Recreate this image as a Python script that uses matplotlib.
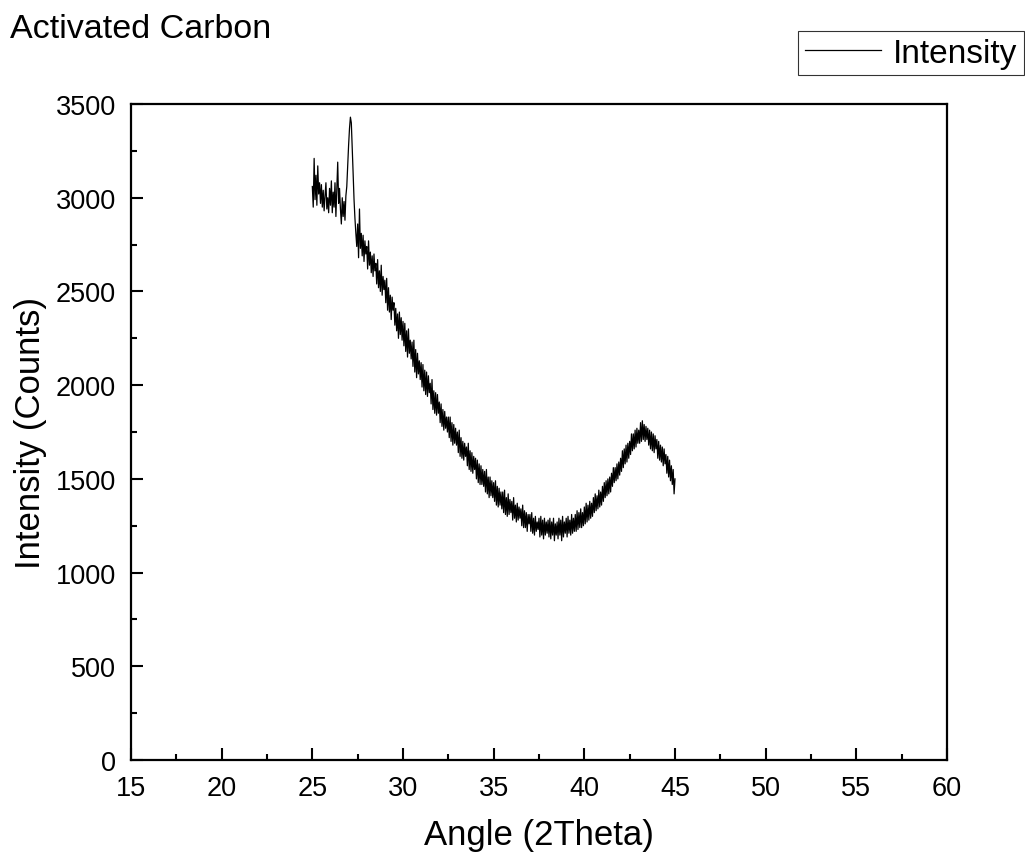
import matplotlib.pyplot as plt
import numpy as np

plt.rcParams['font.family'] = ['Liberation Sans', 'DejaVu Sans']

# XRD scan, 2theta from 25 to 45 deg, step 0.05
angle_start = 25.0
angle_step = 0.05
intensity = [
    3060, 2950, 3210, 2990, 3120, 2960, 3170, 3020, 3080, 2970,
    3070, 2950, 3040, 2930, 3010, 3080, 2940, 3000, 2920, 3050,
    2960, 3090, 2920, 3030, 2950, 3080, 2900, 3040, 3190, 2970,
    3050, 2940, 2860, 3000, 2900, 2980, 2880, 3010, 3060, 3170,
    3280, 3370, 3430, 3400, 3270, 3130, 2990, 2890, 2810, 2740,
    2860, 2680, 2940, 2730, 2810, 2690, 2800, 2660, 2770, 2700,
    2740, 2620, 2770, 2640, 2710, 2600, 2690, 2580, 2700, 2610,
    2650, 2540, 2670, 2520, 2610, 2500, 2640, 2480, 2580, 2510,
    2560, 2440, 2570, 2400, 2520, 2390, 2480, 2350, 2470, 2400,
    2440, 2320, 2410, 2290, 2380, 2250, 2390, 2270, 2360, 2240,
    2340, 2210, 2330, 2180, 2290, 2150, 2300, 2170, 2240, 2140,
    2230, 2100, 2240, 2070, 2190, 2040, 2170, 2060, 2130, 2030,
    2120, 1990, 2110, 1970, 2080, 1950, 2070, 1940, 2050, 1960,
    2010, 1900, 2030, 1870, 1970, 1850, 1960, 1840, 1950, 1850,
    1910, 1800, 1900, 1780, 1870, 1760, 1860, 1770, 1830, 1750,
    1830, 1720, 1830, 1700, 1800, 1680, 1790, 1690, 1770, 1680,
    1750, 1640, 1760, 1620, 1720, 1610, 1700, 1600, 1690, 1620,
    1670, 1570, 1690, 1550, 1650, 1540, 1640, 1530, 1620, 1550,
    1610, 1500, 1600, 1480, 1580, 1470, 1570, 1470, 1550, 1460,
    1540, 1430, 1550, 1420, 1510, 1400, 1510, 1410, 1490, 1400,
    1480, 1380, 1490, 1360, 1460, 1350, 1450, 1360, 1430, 1340,
    1430, 1320, 1440, 1310, 1400, 1300, 1420, 1310, 1390, 1320,
    1380, 1280, 1400, 1290, 1360, 1270, 1370, 1280, 1350, 1290,
    1340, 1250, 1360, 1240, 1330, 1240, 1320, 1220, 1310, 1260,
    1310, 1220, 1320, 1210, 1290, 1200, 1300, 1220, 1270, 1230,
    1290, 1190, 1300, 1200, 1280, 1180, 1290, 1200, 1270, 1210,
    1280, 1190, 1290, 1180, 1270, 1200, 1290, 1170, 1260, 1200,
    1270, 1180, 1290, 1200, 1280, 1170, 1300, 1190, 1270, 1210,
    1290, 1190, 1300, 1210, 1280, 1200, 1310, 1210, 1290, 1220,
    1310, 1220, 1330, 1230, 1320, 1240, 1340, 1240, 1320, 1250,
    1350, 1260, 1370, 1270, 1360, 1280, 1380, 1290, 1370, 1300,
    1400, 1320, 1420, 1330, 1410, 1340, 1440, 1350, 1430, 1360,
    1460, 1380, 1480, 1400, 1490, 1410, 1500, 1420, 1510, 1430,
    1530, 1460, 1560, 1480, 1560, 1490, 1580, 1500, 1590, 1520,
    1610, 1540, 1650, 1560, 1660, 1580, 1680, 1590, 1690, 1610,
    1700, 1630, 1740, 1650, 1740, 1660, 1760, 1670, 1770, 1690,
    1760, 1690, 1800, 1700, 1810, 1710, 1790, 1700, 1780, 1710,
    1770, 1680, 1760, 1660, 1750, 1650, 1740, 1640, 1730, 1660,
    1710, 1610, 1700, 1600, 1680, 1590, 1670, 1570, 1660, 1580,
    1630, 1530, 1620, 1510, 1600, 1490, 1570, 1470, 1550, 1420,
    1500,
]
angle = angle_start + angle_step * np.arange(len(intensity))

fig = plt.figure(figsize=(10.25, 8.54), dpi=100)
ax = fig.add_axes([0.1278, 0.1089, 0.7961, 0.7681])

ax.plot(angle, intensity, color='black', lw=0.9, label='Intensity')

ax.set_xlim(15, 60)
ax.set_ylim(0, 3500)
ax.set_xticks(np.arange(15, 61, 5))
ax.set_yticks(np.arange(0, 3501, 500))
ax.set_xticks(np.arange(17.5, 60, 5), minor=True)
ax.set_yticks(np.arange(250, 3500, 500), minor=True)
ax.tick_params(which='both', direction='in', top=False, right=False,
               labelsize=19.5, width=1.5)
ax.tick_params(which='major', length=8.6)
ax.tick_params(which='minor', length=4.5)
ax.tick_params(axis='y', pad=11)
ax.tick_params(axis='x', pad=11)
for s in ax.spines.values():
    s.set_linewidth(1.6)

ax.set_xlabel('Angle (2Theta)', fontsize=25, labelpad=12)
ax.set_ylabel('Intensity (Counts)', fontsize=25, labelpad=6)

fig.text(0.01, 1 - 29 / 854, 'Activated Carbon', fontsize=24.5, va='center')
leg = fig.legend(loc='upper right', bbox_to_anchor=(1024 / 1025, 1 - 32 / 854),
                 fontsize=24, handlelength=2.3, handletextpad=0.35,
                 borderpad=0.2, borderaxespad=0, fancybox=False)
leg.get_frame().set_edgecolor('black')
leg.get_frame().set_linewidth(0.8)

fig.savefig('out.png', dpi=100)
